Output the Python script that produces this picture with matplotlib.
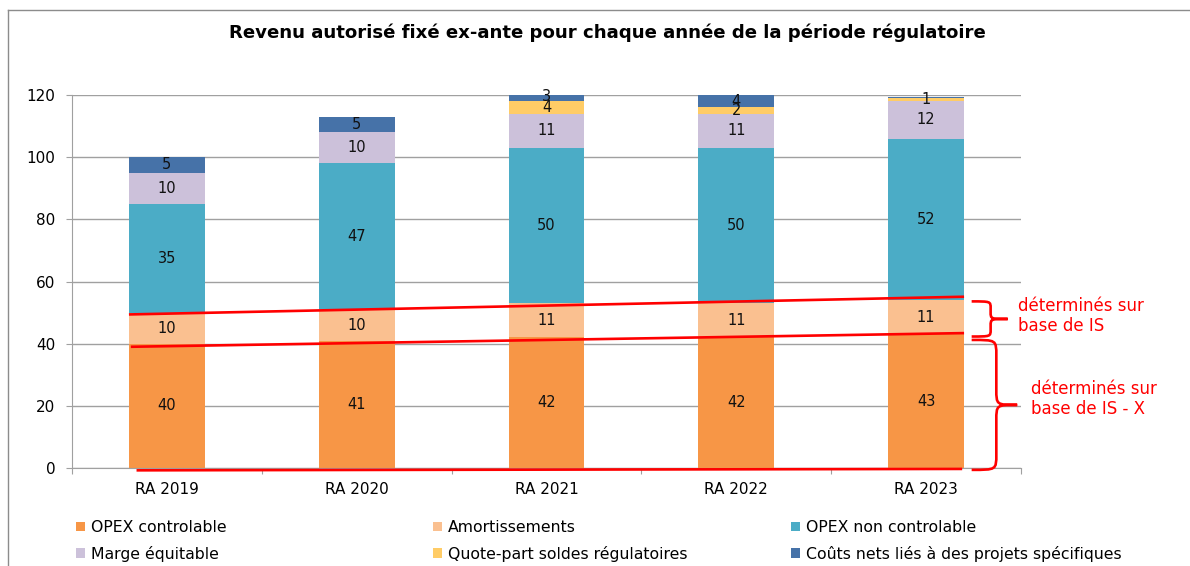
import matplotlib
matplotlib.use("Agg")
import matplotlib.pyplot as plt
import numpy as np
from matplotlib.path import Path
from matplotlib.patches import PathPatch, Patch
from matplotlib.lines import Line2D

categories = ["RA 2019", "RA 2020", "RA 2021", "RA 2022", "RA 2023"]
series_names = ["OPEX controlable", "Amortissements", "OPEX non controlable",
                "Marge équitable", "Quote-part soldes régulatoires",
                "Coûts nets liés à des projets spécifiques"]
opex_ctrl = [40, 41, 42, 42, 43]
amort = [10, 10, 11, 11, 11]
opex_nc = [35, 47, 50, 50, 52]
marge = [10, 10, 11, 11, 12]
quote = [0, 0, 4, 2, 1]
couts = [5, 5, 3, 4, 0.3]
colors = ["#F79646", "#FAC090", "#4BACC6", "#CCC1DA", "#FFCC66", "#4672A8"]

# red guide lines (data coords: x in category units, y in values)
upper_line_x = [-0.2, 4.2]
upper_line_y = [49.4, 55.1]
lower_line_x = [-0.19, 4.2]
lower_line_y = [39.0, 43.4]
base_line_x = [-0.16, 4.19]
base_line_y = [-0.75, -0.3]

W, H = 1190, 566
fig = plt.figure(figsize=(W / 100, H / 100), dpi=100)
fig.patch.set_facecolor("white")

ax_left, ax_right, ax_top, ax_bot = 72, 1021, 95, 468
ax = fig.add_axes([ax_left / W, 1 - ax_bot / H, (ax_right - ax_left) / W, (ax_bot - ax_top) / H])

data = [opex_ctrl, amort, opex_nc, marge, quote, couts]
x = np.arange(len(categories))
bottom = np.zeros(len(categories))
handles = []
for vals, col, name in zip(data, colors, series_names):
    vals = np.array(vals, dtype=float)
    ax.bar(x, vals, 0.4, bottom=bottom, color=col, label=name, zorder=2)
    for xi, b, v in zip(x, bottom, vals):
        if round(v) >= 1:
            ax.text(xi, b + v / 2, f"{round(v):d}", ha="center", va="center",
                    fontsize=10.5, family="DejaVu Sans", color="#111111", zorder=4,
                    clip_on=False)
    handles.append(Patch(facecolor=col, label=name))
    bottom = bottom + vals

ax.set_xlim(-0.5, 4.5)
ax.set_ylim(0, 120)
ax.set_yticks(np.arange(0, 121, 20))
ax.set_yticklabels([str(v) for v in range(0, 121, 20)], family="DejaVu Sans", fontsize=11)
ax.yaxis.grid(True, color="#A0A0A0", linewidth=1.0, zorder=0)
ax.set_axisbelow(True)
ax.tick_params(axis="y", length=4, color="#A0A0A0", pad=8)

ax.set_xticks(np.arange(-0.5, 4.6, 1.0))
ax.set_xticklabels([])
ax.set_xticks(x, minor=True)
ax.set_xticklabels(categories, minor=True, family="DejaVu Sans", fontsize=11)
ax.tick_params(axis="x", which="major", length=4, color="#A0A0A0")
ax.tick_params(axis="x", which="minor", length=0, pad=10)
for s in ["top", "right"]:
    ax.spines[s].set_visible(False)
for s in ["left", "bottom"]:
    ax.spines[s].set_color("#A0A0A0")

# red lines
for lx, ly in [(upper_line_x, upper_line_y), (lower_line_x, lower_line_y), (base_line_x, base_line_y)]:
    ax.plot(lx, ly, color="#FF0000", linewidth=1.9, zorder=5, clip_on=False, solid_capstyle="butt")

def brace(ax, x0, xs, xt, ytop, ybot, r):
    ym = (ytop + ybot) / 2
    verts = [(x0, ytop), (xs, ytop), (xs, ytop), (xs, ytop - r),
             (xs, ym + r),
             (xs, ym), (xs, ym), (xt, ym),
             (xs, ym), (xs, ym), (xs, ym - r),
             (xs, ybot + r),
             (xs, ybot), (xs, ybot), (x0, ybot)]
    codes = [Path.MOVETO, Path.CURVE4, Path.CURVE4, Path.CURVE4,
             Path.LINETO,
             Path.CURVE4, Path.CURVE4, Path.CURVE4,
             Path.CURVE4, Path.CURVE4, Path.CURVE4,
             Path.LINETO,
             Path.CURVE4, Path.CURVE4, Path.CURVE4]
    ax.add_patch(PathPatch(Path(verts, codes), facecolor="none", edgecolor="#FF0000",
                           linewidth=1.9, clip_on=False, zorder=5))

brace(ax, 4.24, 4.34, 4.43, 53.6, 42.3, 2.2)
brace(ax, 4.24, 4.37, 4.48, 41.2, -0.6, 5.0)

fig.text(1018 / W, 1 - 316 / H, "déterminés sur\nbase de IS", color="#FF0000",
         fontsize=12, family="DejaVu Sans", ha="left", va="center", linespacing=1.15)
fig.text(1031 / W, 1 - 399 / H, "déterminés sur\nbase de IS - X", color="#FF0000",
         fontsize=12, family="DejaVu Sans", ha="left", va="center", linespacing=1.15)

fig.text(607 / W, 1 - 33 / H,
         "Revenu autorisé fixé ex-ante pour chaque année de la période régulatoire",
         ha="center", va="center", fontsize=13.1, fontweight="bold", family="DejaVu Sans")

# legend: three single-column legends
col_x = [76, 433, 791]
for ci in range(3):
    hs = [handles[ci], handles[ci + 3]]
    fig.legend(handles=hs, loc="upper left",
               bbox_to_anchor=(col_x[ci] / W, 1 - 520 / H),
               frameon=False, ncol=1, prop={"family": "DejaVu Sans", "size": 11.3},
               handlelength=0.55, handleheight=0.55, handletextpad=0.4,
               labelspacing=0.68, borderpad=0, borderaxespad=0)

# outer border
fig.add_artist(Line2D([8 / W, 8 / W], [0, 1 - 10 / H], color="#8C8C8C", linewidth=1.0))
fig.add_artist(Line2D([8 / W, 1], [1 - 10 / H, 1 - 10 / H], color="#8C8C8C", linewidth=1.0))

fig.savefig("out.png", dpi=100)
